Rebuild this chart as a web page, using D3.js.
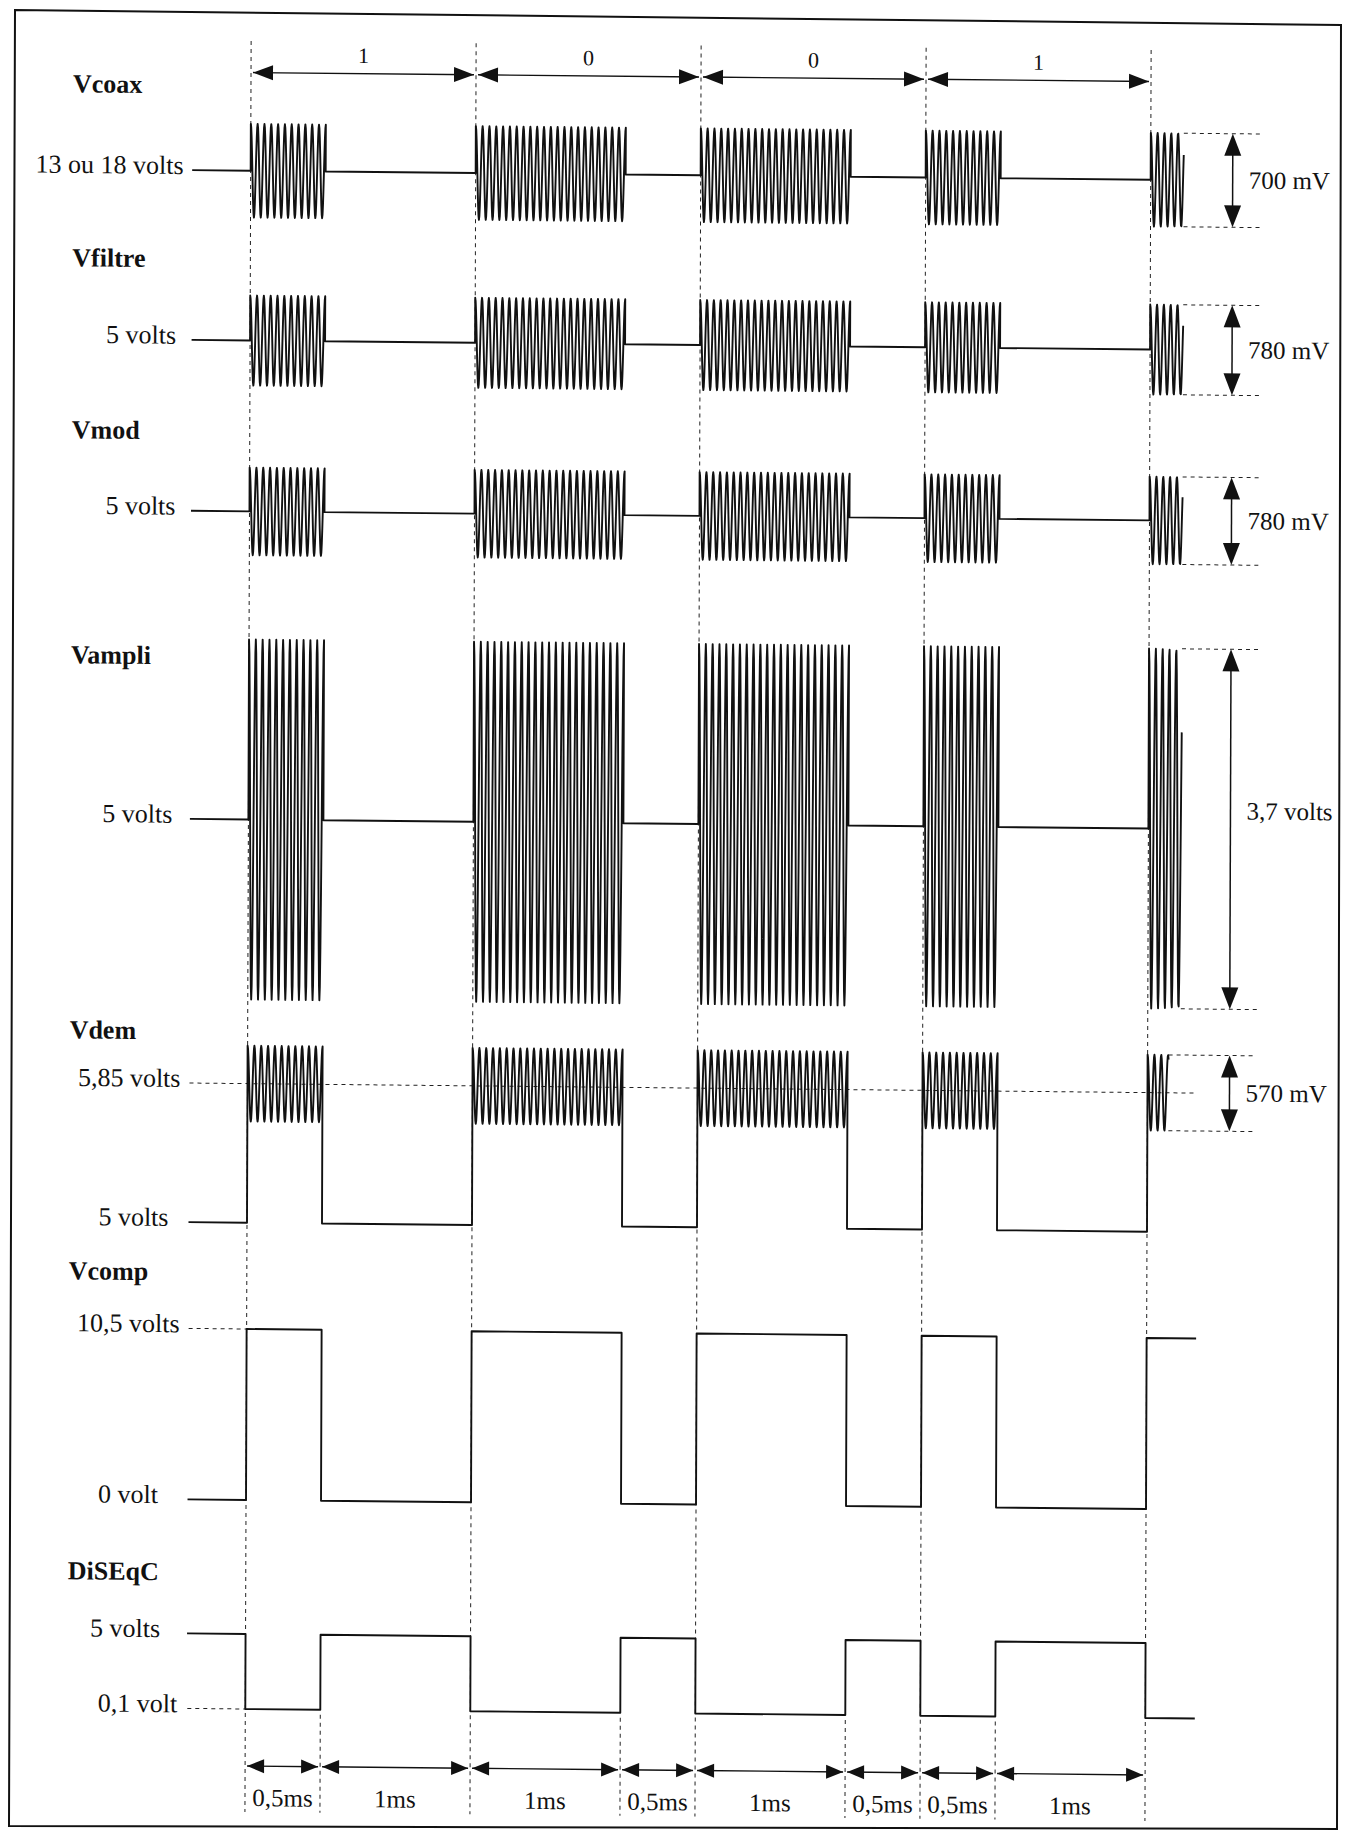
<!DOCTYPE html>
<html>
<head>
<meta charset="utf-8">
<script src="https://cdn.jsdelivr.net/npm/d3@7"></script>
<style>
body { margin: 0; background: #fff; }
text { font-family: "Liberation Serif", "DejaVu Serif", serif; fill: #111; }
.name { font-weight: bold; font-size: 26px; }
.lvl { font-size: 26px; }
.anno { font-size: 25px; }
.ms { font-size: 25px; }
.bit { font-size: 22px; }
.dash { stroke: #222; stroke-width: 1; stroke-dasharray: 4,4; fill: none; }
.sig { stroke: #111; stroke-width: 1.9; fill: none; stroke-linejoin: round; }
</style>
</head>
<body>
<div id="chart"></div>
<script>
// trame DiSEqC : 4 bits (1 0 0 1) puis debut de la trame suivante
var bits = [1, 0, 0, 1];
var bitMs = 1.5;
var toneMs = { 1: 0.5, 0: 1.0 };
var carrierKHz = 22;
var leadMs = -0.39;

var signalNames = ["Vcoax", "Vfiltre", "Vmod", "Vampli", "Vdem", "Vcomp", "DiSEqC"];
var restVolts = [13, 5, 5, 5, 5, 0, 5];
var toneVolts = [13, 5, 5, 5, 5.85, 10.5, 0.1];
var rippleVolts = [0.70, 0.78, 0.78, 3.7, 0.57, 0, 0];
var rippleLabels = ["700 mV", "780 mV", "780 mV", "3,7 volts", "570 mV"];
var tailMs = [0.22, 0.22, 0.22, 0.22, 0.14, 0.33, 0.33];
var levelLabels = [
	["13 ou 18 volts"], ["5 volts"], ["5 volts"], ["5 volts"],
	["5 volts", "5,85 volts"], ["0 volt", "10,5 volts"], ["5 volts", "0,1 volt"]
];

// mise en page (pixels)
var W = 1356, H = 1833;
var nameY = [94, 268, 440, 665, 1040, 1281, 1581];
var panelY = [[217.5, 123.9], [385.5, 295.5], [555.2, 467.6], [999.5, 639.5], [1222.7, 1083.6], [1500, 1329], [1634, 1709]];
var labelRight = [[181], [174], [174], [172], [169.5, 181], [160, 181], [162.5, 180]];
var annoDy = [8, 8, 8, -10, 8];
var demRipplePx = 133;
var arrowX = 1230, annoEnd = 1257, annoLabelX = 1246;

var x = d3.scaleLinear().domain([0, 6]).range([248, 1148]);

var yScales = signalNames.map(function (n, i) {
	if (i < 4) {
		return d3.scaleLinear()
			.domain([restVolts[i] - rippleVolts[i] / 2, restVolts[i] + rippleVolts[i] / 2])
			.range(panelY[i]);
	}
	return d3.scaleLinear().domain([restVolts[i], toneVolts[i]]).range(panelY[i]);
});

function ripplePx(i) {
	if (rippleVolts[i] == 0) return 0;
	if (i == 4) return rippleVolts[i] * demRipplePx;
	var sc = yScales[i];
	return Math.abs(sc(restVolts[i] + rippleVolts[i] / 2) - sc(restVolts[i] - rippleVolts[i] / 2));
}

// intervalles avec porteuse 22 kHz
var toneSpans = [];
var ticks = [0];
bits.forEach(function (b, k) {
	var s = k * bitMs;
	toneSpans.push([s, s + toneMs[b]]);
	ticks.push(s + toneMs[b], s + bitMs);
});
var frameEnd = bits.length * bitMs;

function buildTrace(i) {
	var sc = yScales[i], rp = ripplePx(i);
	var yRest = sc(restVolts[i]), yTone = sc(toneVolts[i]);
	var pts = [[leadMs, yRest]];
	var spans = toneSpans.concat([[frameEnd, frameEnd + tailMs[i]]]);
	spans.forEach(function (sp, j) {
		pts.push([sp[0], yRest]);
		if (rp > 0) {
			var n = Math.round((sp[1] - sp[0]) * carrierKHz * 16);
			for (var s = 0; s <= n; s++) {
				var t = sp[0] + (sp[1] - sp[0]) * s / n;
				pts.push([t, yTone - rp / 2 * Math.cos(2 * Math.PI * carrierKHz * (t - sp[0]))]);
			}
		} else {
			pts.push([sp[0], yTone], [sp[1], yTone]);
		}
		if (j < toneSpans.length) pts.push([sp[1], yRest]);
	});
	return pts;
}

var svg = d3.select("#chart").append("svg").attr("width", W).attr("height", H);
svg.append("rect").attr("width", W).attr("height", H).attr("fill", "#fff");
svg.append("path")
	.attr("d", "M15,10L1341,25L1337,1829L9,1826Z")
	.attr("fill", "none").attr("stroke", "#111").attr("stroke-width", 2);

// le scan est legerement de travers
var kx = 0.01, ky = -0.0035, pivot = [248, 935];
var g = svg.append("g")
	.attr("transform", "matrix(1," + kx + "," + ky + ",1," + (-ky * pivot[1]) + "," + (-kx * pivot[0]) + ")");

function head(sel, xt, yt, dir, len, wid) {
	// dir: 1 pointe a droite, -1 a gauche, 2 vers le bas, -2 vers le haut
	var p;
	if (Math.abs(dir) == 1) p = [[xt, yt], [xt - dir * len, yt - wid / 2], [xt - dir * len, yt + wid / 2]];
	else { var s = dir / 2; p = [[xt, yt], [xt - wid / 2, yt - s * len], [xt + wid / 2, yt - s * len]]; }
	sel.append("path").attr("d", "M" + p.join("L") + "Z").attr("fill", "#111");
}

function hArrow(sel, x1, x2, y, len, wid) {
	sel.append("line").attr("x1", x1).attr("x2", x2).attr("y1", y).attr("y2", y)
		.attr("stroke", "#111").attr("stroke-width", 1.3);
	head(sel, x1, y, -1, len, wid);
	head(sel, x2, y, 1, len, wid);
}

// pointilles verticaux
var bitEdges = d3.range(bits.length + 1).map(function (k) { return k * bitMs; });
g.append("g").selectAll("line").data(bitEdges).enter().append("line")
	.attr("class", "dash")
	.attr("x1", function (d) { return x(d); }).attr("x2", function (d) { return x(d); })
	.attr("y1", 41).attr("y2", 1812);
var halfEdges = ticks.filter(function (t) { return bitEdges.indexOf(t) < 0; });
g.append("g").selectAll("line").data(halfEdges).enter().append("line")
	.attr("class", "dash")
	.attr("x1", function (d) { return x(d); }).attr("x2", function (d) { return x(d); })
	.attr("y1", 1714).attr("y2", 1812);

// fleches du haut : valeur des bits
var topG = g.append("g");
bits.forEach(function (b, k) {
	hArrow(topG, x(k * bitMs) + 2, x((k + 1) * bitMs) - 2, 72.5, 20, 15);
	topG.append("text").attr("class", "bit").attr("text-anchor", "middle")
		.attr("x", x((k + 0.5) * bitMs)).attr("y", 62).text(String(b));
});

// fleches du bas : durees
var botG = g.append("g");
for (var k = 0; k < ticks.length - 1; k++) {
	var a = ticks[k], b = ticks[k + 1];
	hArrow(botG, x(a) + 2, x(b) - 2, 1766, 17, 14);
	botG.append("text").attr("class", "ms").attr("text-anchor", "middle")
		.attr("x", x((a + b) / 2)).attr("y", 1806)
		.text(String(b - a).replace(".", ",") + "ms");
}

// traces
var line = d3.line().x(function (d) { return x(d[0]); }).y(function (d) { return d[1]; });
signalNames.forEach(function (name, i) {
	var sc = yScales[i];
	g.append("text").attr("class", "name").attr("x", 70).attr("y", nameY[i]).text(name);

	var lv = i < 4 ? [restVolts[i]] : [restVolts[i], toneVolts[i]];
	lv.forEach(function (v, j) {
		g.append("text").attr("class", "lvl").attr("text-anchor", "end")
			.attr("x", labelRight[i][j]).attr("y", sc(v) + 4).text(levelLabels[i][j]);
	});

	// pointilles de niveau
	if (i == 4) {
		g.append("line").attr("class", "dash").attr("x1", 190).attr("x2", 1195)
			.attr("y1", sc(toneVolts[i])).attr("y2", sc(toneVolts[i]));
	}
	if (i == 5 || i == 6) {
		g.append("line").attr("class", "dash").attr("x1", 190).attr("x2", x(0))
			.attr("y1", sc(toneVolts[i])).attr("y2", sc(toneVolts[i]));
	}

	g.append("path").attr("class", "sig").attr("d", line(buildTrace(i)));

	// cote d'amplitude a droite
	if (rippleVolts[i] > 0) {
		var rp = ripplePx(i), yc = sc(toneVolts[i]);
		var y1 = yc - rp / 2, y2 = yc + rp / 2;
		var xs = x(frameEnd + tailMs[i]);
		[y1, y2].forEach(function (yy) {
			g.append("line").attr("class", "dash").attr("x1", xs).attr("x2", annoEnd).attr("y1", yy).attr("y2", yy);
		});
		g.append("line").attr("x1", arrowX).attr("x2", arrowX).attr("y1", y1 + 4).attr("y2", y2 - 4)
			.attr("stroke", "#111").attr("stroke-width", 1.5);
		head(g, arrowX, y1, -2, 22, 17);
		head(g, arrowX, y2, 2, 22, 17);
		g.append("text").attr("class", "anno").attr("x", annoLabelX).attr("y", yc + annoDy[i]).text(rippleLabels[i]);
	}
});
</script>
</body>
</html>
